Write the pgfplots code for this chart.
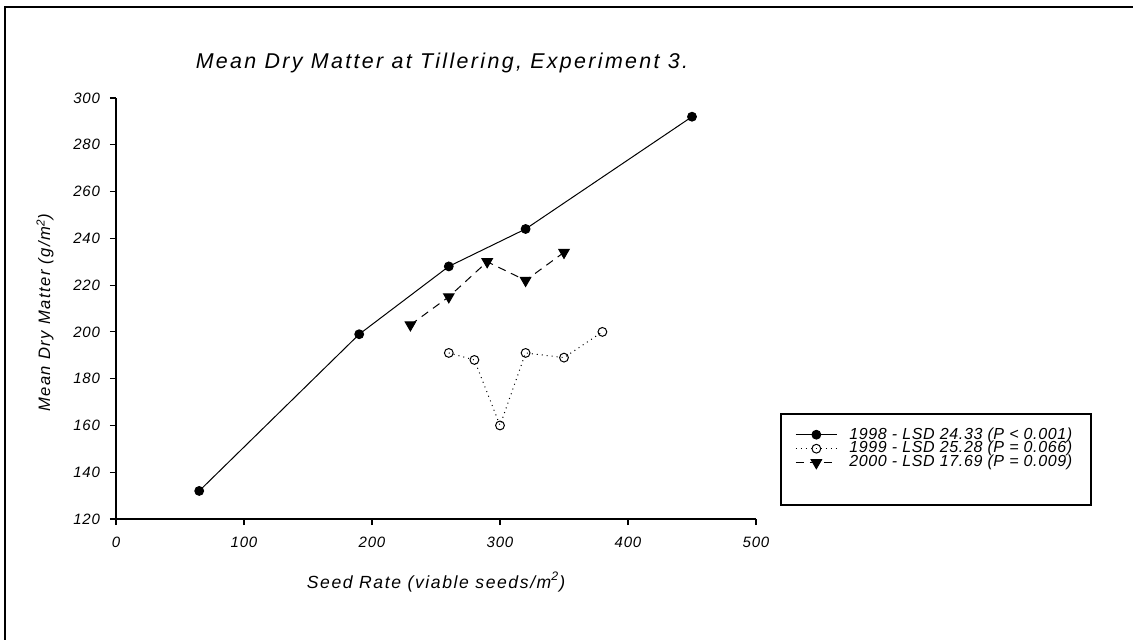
\documentclass[border=0pt]{standalone}
\usepackage{fontspec}
\setmainfont{Liberation Sans}[LetterSpace=5]
\newfontfamily\titlefont{Liberation Sans}[LetterSpace=11]
\newfontfamily\labelfont{Liberation Sans}[LetterSpace=9]
\newfontfamily\legfont{Liberation Sans}[LetterSpace=4]
\usepackage{pgfplots}
\pgfplotsset{compat=1.18}
\pgfplotstableread{
x y
65 132
190 199
260 228
320 244
450 292
}\dataA
\pgfplotstableread{
x y
260 191
280 188
300 160
320 191
350 189
380 200
}\dataB
\pgfplotstableread{
x y
230 203
260 215
290 230
320 222
350 234
}\dataC
\begin{document}
\begin{tikzpicture}
\draw[line width=1pt] (2.5pt,-1pt) -- (2.5pt,315.75pt) -- (566.5pt,315.75pt);
\begin{axis}[
  at={(58pt,60pt)}, anchor=south west,
  scale only axis, width=320pt, height=210.5pt,
  xmin=0, xmax=500, ymin=120, ymax=300,
  clip=false,
  axis lines*=left,
  xtick={0,100,...,500}, ytick={120,140,...,300},
  minor tick num=0,
  tick align=outside, major tick length=3pt,
  tick style={line width=0.6pt, black},
  axis line style={line width=0.7pt},
  /pgf/number format/assume math mode=true,
  ticklabel style={font=\fontsize{7.5}{9}\selectfont\itshape},
  xticklabel style={yshift=-2.5pt},
  yticklabel style={xshift=-1.5pt},
  title={Mean Dry Matter at Tillering, Experiment 3.},
  title style={at={(0.5,1)}, anchor=center, yshift=11.5pt, xshift=3pt, font=\titlefont\fontsize{10.7}{13}\selectfont\itshape},
  xlabel={Seed Rate (viable seeds/m\textsuperscript{2})},
  xlabel style={at={(0.5,0)}, anchor=center, yshift=-31.5pt, font=\labelfont\fontsize{8.8}{10}\selectfont\itshape},
  ylabel={Mean Dry Matter (g/m\textsuperscript{2})},
  ylabel style={at={(0,0.49)}, anchor=center, yshift=35.5pt, font=\labelfont\fontsize{8.3}{10}\selectfont\itshape},
  legend style={at={(1.039,0.2494)}, anchor=north west, draw=none, fill=none,
    font=\legfont\fontsize{8}{9}\selectfont\itshape, inner xsep=7pt, inner ysep=4.5pt,
    row sep=-4.3pt, cells={anchor=west}},
  legend cell align=left,
  legend image code/.code={%
    \draw[line width=0.5pt] (0pt,0pt) -- (20.5pt,0pt);
    \draw[mark repeat=2,mark phase=2] plot coordinates {(0pt,0pt) (10.25pt,0pt) (20.5pt,0pt)};},
]
\addplot[black, line width=0.5pt, solid, mark=*, mark size=2.2pt, mark options={solid, fill=black}] table {\dataA};
\addlegendentry{\hspace*{4pt}1998 - LSD 24.33 (P < 0.001)}
\addplot[black, line width=0.5pt, dotted, mark=o, mark size=2.2pt, mark options={solid, fill=white}] table {\dataB};
\addlegendentry{\hspace*{4pt}1999 - LSD 25.28 (P = 0.066)}
\addplot[black, line width=0.5pt, dash pattern=on 4pt off 3pt, mark=triangle*, mark size=3pt, mark options={solid, fill=black, rotate=180}] table {\dataC};
\addlegendentry{\hspace*{4pt}2000 - LSD 17.69 (P = 0.009)}
\draw[line width=0.7pt] (rel axis cs:1.039,0.0333) rectangle (rel axis cs:1.5234,0.2494);
\end{axis}
\pgfresetboundingbox
\path[use as bounding box] (0pt,0pt) rectangle (568pt,319.5pt);
\end{tikzpicture}
\end{document}
